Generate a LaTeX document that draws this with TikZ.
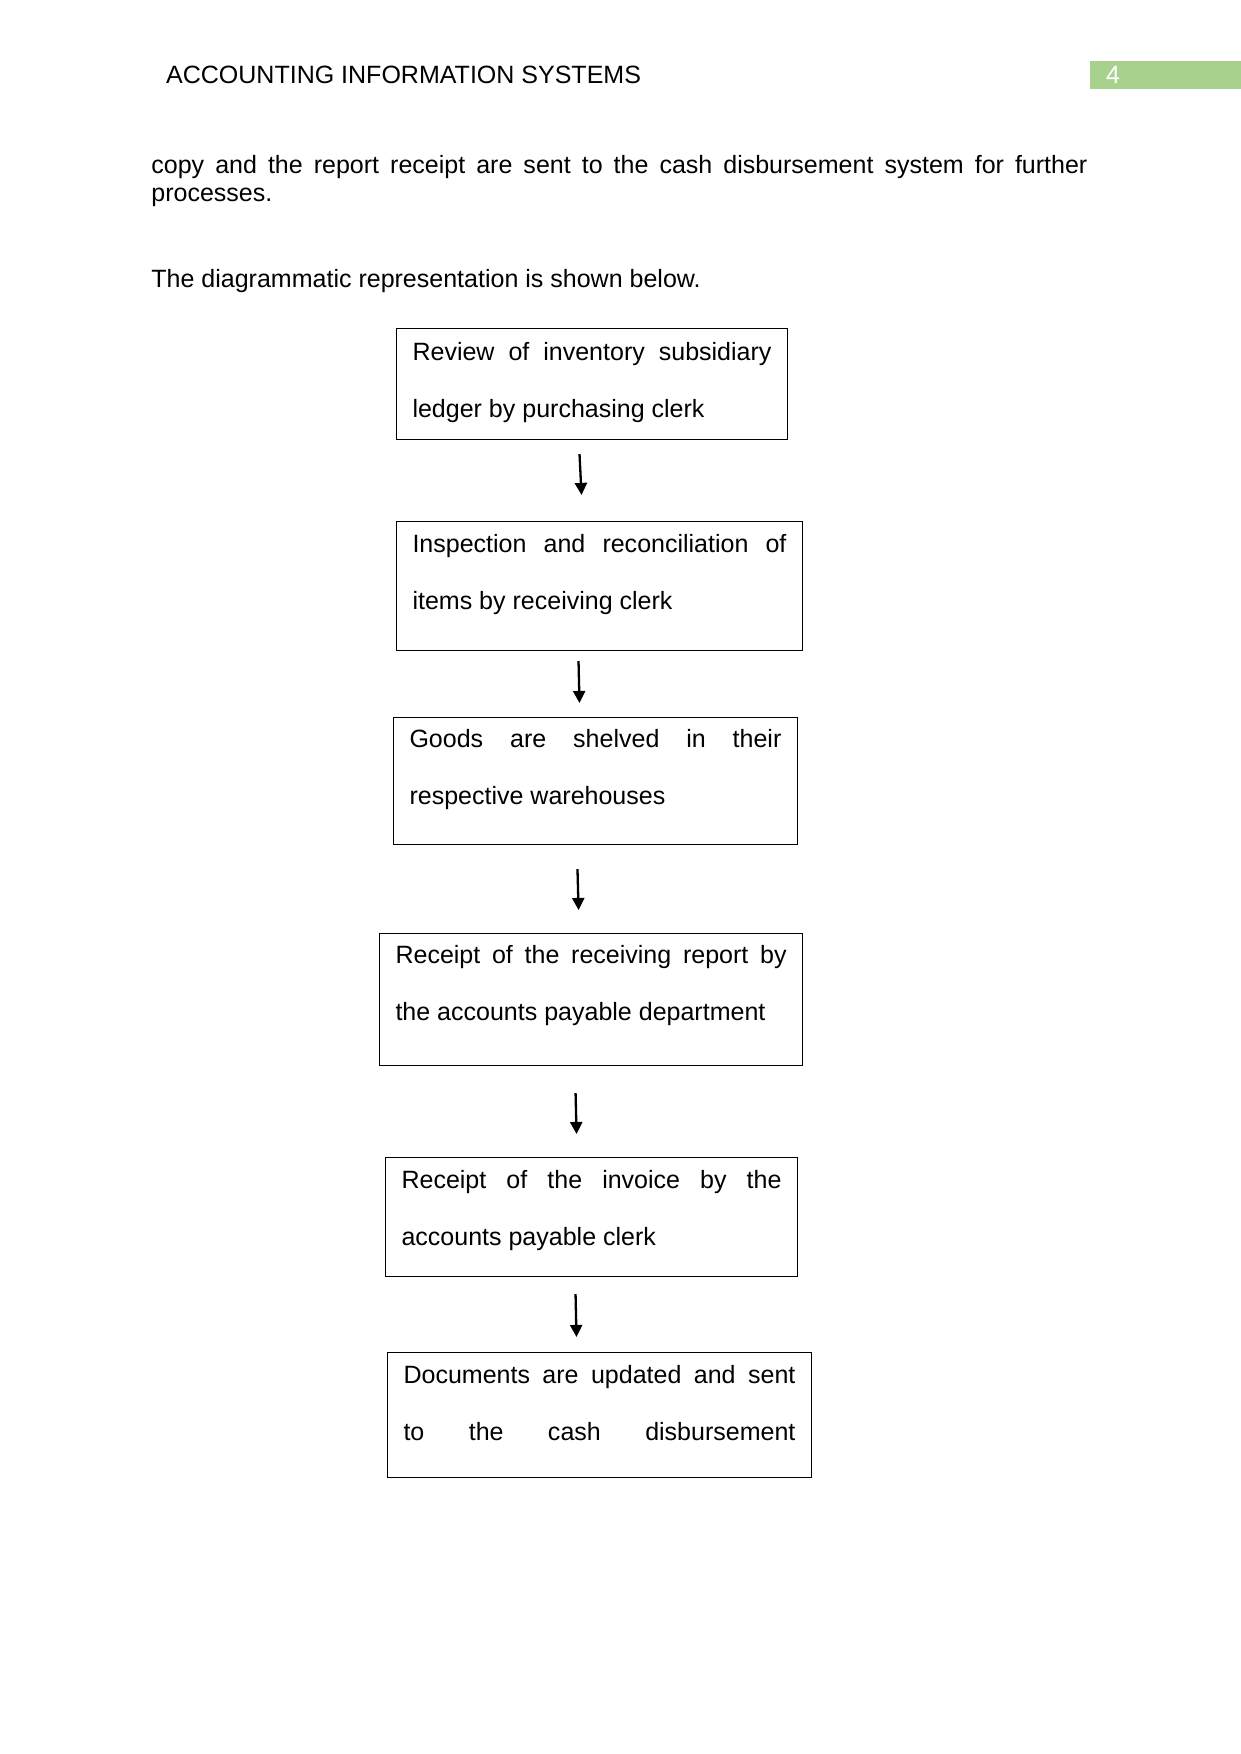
\documentclass[tikz,border=0pt]{standalone}
\usepackage{fontspec}
\setmainfont{Liberation Sans}
\usetikzlibrary{arrows.meta,calc}
\definecolor{pagegreen}{HTML}{A9D18E}
\hyphenpenalty=10000
\exhyphenpenalty=10000
\tolerance=10000
\begin{document}
\begin{tikzpicture}[x=0.4797pt,y=-0.4797pt,
box/.style={draw,line width=0.5pt,anchor=north west,align=justify,inner xsep=7.68pt,inner ysep=0pt,
  font=\fontsize{12}{27.35}\selectfont},
txt/.style={inner sep=0pt,anchor=base west,font=\fontsize{12}{13.62}\selectfont},
arr/.style={-{Triangle[length=5.8pt,width=5.8pt]},line width=1.1pt}]
\useasboundingbox (0,0) rectangle (1241,1754);
\node[txt] (head) at (165.7,83.3) {ACCOUNTING INFORMATION SYSTEMS};
\fill[pagegreen] (1090,60.7) rectangle (1241,89);
\node[txt,text=white] (pagenum) at (1105.7,83.3) {4};
\node[txt,text width=449pt,align=justify] (para) at (151,173.3)
  {copy and the report receipt are sent to the cash disbursement system for further\linebreak processes.};
\node[txt] (intro) at (151,287.7) {The diagrammatic representation is shown below.};

\node[box,text width=172.2pt,text height=15.35pt,text depth=37.9pt] (review) at (396,328)
  {Review of inventory subsidiary\linebreak ledger by purchasing clerk};
\node[box,text width=179.4pt,text height=14.87pt,text depth=47pt] (inspect) at (396,521)
  {Inspection and reconciliation of\linebreak items by receiving clerk};
\node[box,text width=178.4pt,text height=14.39pt,text depth=46.53pt] (shelve) at (393,717)
  {Goods are shelved in their\linebreak respective warehouses};
\node[box,text width=187.6pt,text height=14.39pt,text depth=48.93pt] (report) at (379,933)
  {Receipt of the receiving report by\linebreak the accounts payable department};
\node[box,text width=182.3pt,text height=14.87pt,text depth=42.21pt] (invoice) at (385,1157)
  {Receipt of the invoice by the\linebreak accounts payable clerk};
\node[box,text width=188pt,text height=14.87pt,text depth=45.09pt] (docs) at (387,1352)
  {Documents are updated and sent\linebreak to\hspace{\fill}the\hspace{\fill}cash\hspace{\fill}disbursement};

\draw[arr] ($(review.south)+(-12.5,14)$)--($(inspect.north)+(-18,-26)$);
\draw[arr] ($(inspect.south)+(-21,10)$)--($(shelve.north)+(-16,-14)$);
\draw[arr] ($(shelve.south)+(-18,24)$)--($(report.north)+(-12.5,-23)$);
\draw[arr] ($(report.south)+(-15.5,27)$)--($(invoice.north)+(-15,-23)$);
\draw[arr] ($(invoice.south)+(-16,17)$)--($(docs.north)+(-23,-15)$);
\end{tikzpicture}
\end{document}
